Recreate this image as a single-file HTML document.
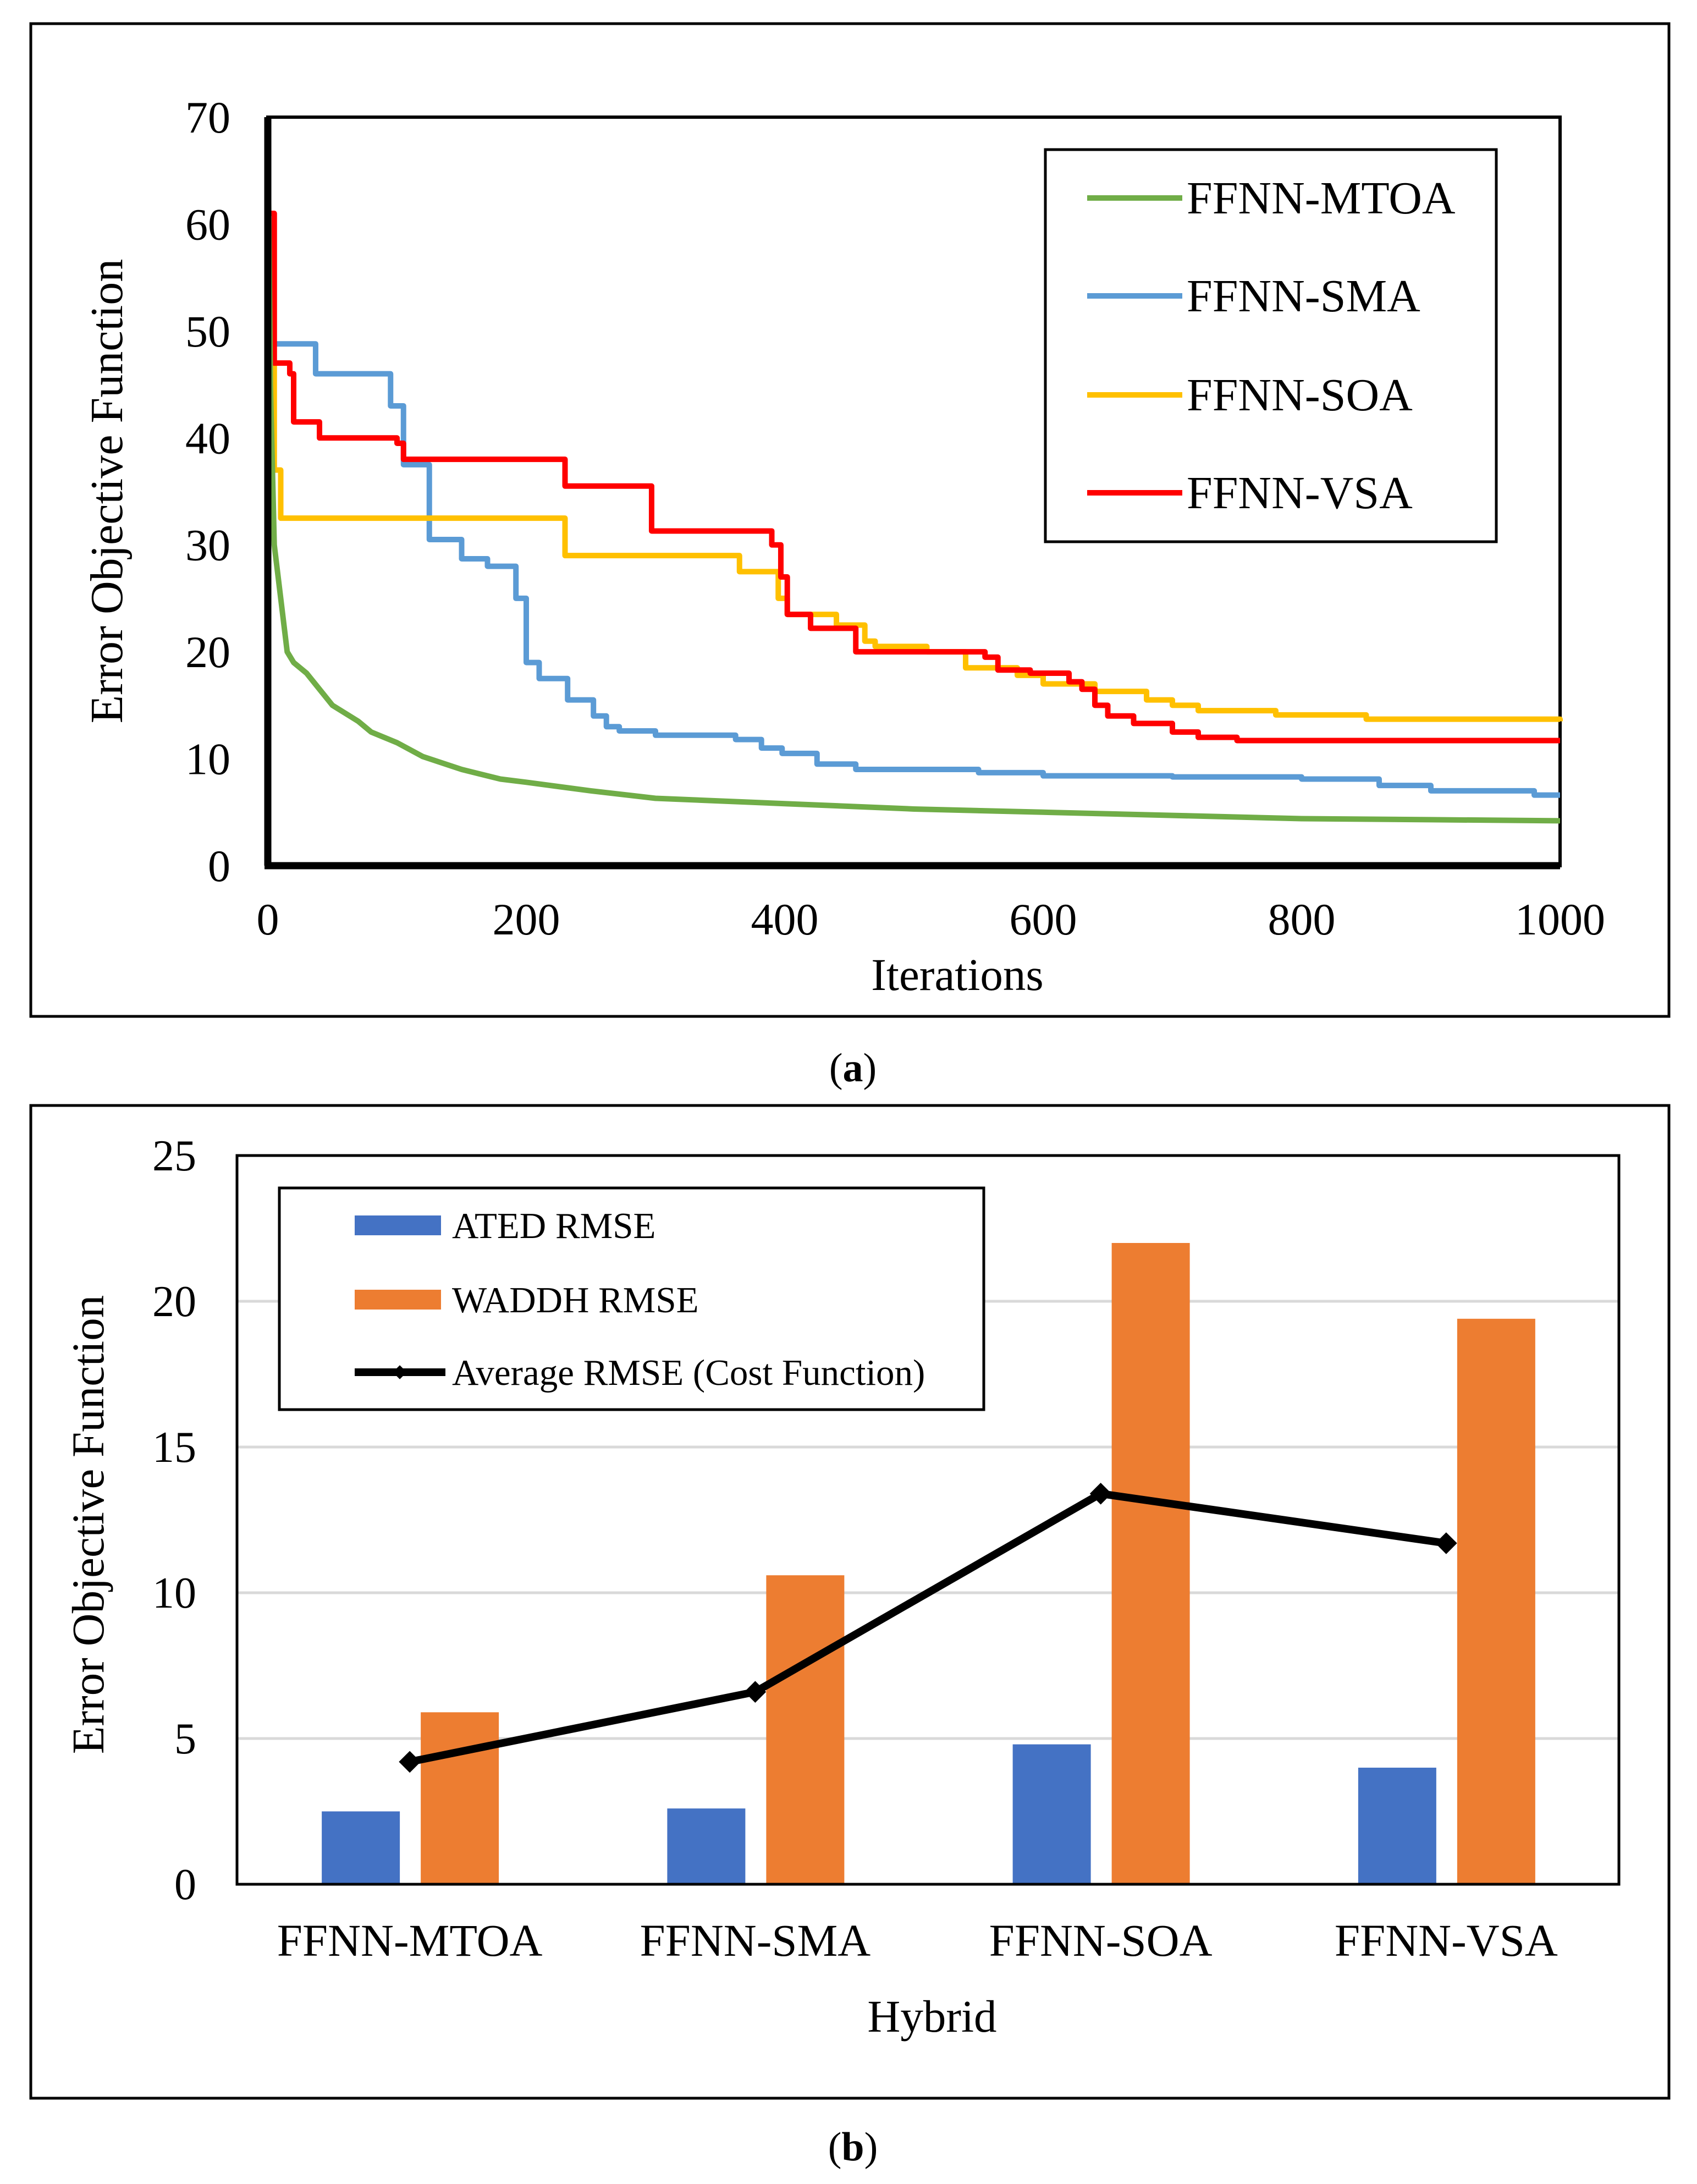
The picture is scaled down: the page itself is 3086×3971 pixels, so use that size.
<!DOCTYPE html>
<html><head><meta charset="utf-8"><style>
html,body{margin:0;padding:0;background:#fff}
svg{display:block}
text{font-family:"Liberation Serif",serif;fill:#000}
</style></head><body>
<svg id="chart" width="3086" height="3971" viewBox="0 0 3086 3971" xmlns="http://www.w3.org/2000/svg">
<g id="pa"></g>
<g id="pb"></g>
</svg>
<script>
// Panel (a) data
const aXTicks=[0,200,400,600,800,1000];
const aYTicks=[0,10,20,30,40,50,60,70];
const mtoaIt=[0,2,5,10,15,20,30,40,50,70,80,100,120,150,180,200,250,300,400,500,600,700,800,900,1000];
const mtoaVal=[70,45,30,25,20,19,18,16.5,15,13.5,12.5,11.5,10.2,9,8.1,7.8,7,6.3,5.8,5.3,5,4.7,4.4,4.3,4.2];
const smaIt=[0,37,95,105,125,150,170,192,200,210,232,252,262,272,300,362,382,398,425,455,550,600,700,800,860,900,980,1000];
const smaVal=[48.8,46,43,37.5,30.5,28.7,28,25,19,17.5,15.5,14,13,12.6,12.2,11.8,11,10.5,9.5,9,8.7,8.4,8.3,8.1,7.5,7,6.6,6.6];
const soaIt=[0,5,10,230,365,395,402,440,462,470,510,530,540,580,600,640,680,700,720,780,850,1000];
const soaVal=[47,37,32.5,29,27.5,25,23.5,22.5,21,20.5,20,20,18.5,17.8,17,16.3,15.5,15,14.5,14.1,13.7,13.5];
const vsaIt=[0,5,17,20,40,100,105,230,297,390,397,402,420,455,555,565,590,620,630,640,650,670,700,720,750,1000];
const vsaVal=[61,47,46,41.5,40,39.5,38,35.5,31.3,30,27,23.5,22.2,20,19.5,18.3,18,17.2,16.5,15,14,13.3,12.5,12,11.7,11.7];
const aNames=["FFNN-MTOA","FFNN-SMA","FFNN-SOA","FFNN-VSA"];
const aColors=["#70ad47","#5b9bd5","#ffc000","#ff0000"];
// Panel (b) data
const bCats=["FFNN-MTOA","FFNN-SMA","FFNN-SOA","FFNN-VSA"];
const atedVals=[2.5,2.6,4.8,4.0];
const waddhVals=[5.9,10.6,22.0,19.4];
const avgVals=[4.2,6.6,13.4,11.7];
const bYTicks=[0,5,10,15,20,25];

const NS="http://www.w3.org/2000/svg";
function mk(parent,tag,attrs,txt){const e=document.createElementNS(NS,tag);for(const k in attrs)e.setAttribute(k,attrs[k]);if(txt!==undefined)e.textContent=txt;parent.appendChild(e);return e;}

// ---------- Panel a ----------
const pa=document.getElementById('pa');
const ax0=487,ax1=2837,ay0=1574,ay70=213;
const ax=v=>ax0+(v/1000)*(ax1-ax0);
const ay=v=>ay0-(v/70)*(ay0-ay70);
let r=mk(pa,'rect',{x:56,y:43,width:2979,height:1805,fill:'none',stroke:'#000','stroke-width':5});


aYTicks.forEach(v=>{let t=mk(pa,'text',{x:419,y:ay(v)+28,'font-size':82,'text-anchor':'end'},String(v));

});
aXTicks.forEach(v=>{let t=mk(pa,'text',{x:ax(v),y:1699,'font-size':82,'text-anchor':'middle'},String(v));

});
let t=mk(pa,'text',{x:1741,y:1800,'font-size':83,'text-anchor':'middle'},'Iterations');


t=mk(pa,'text',{x:0,y:0,'font-size':84,'text-anchor':'middle',transform:'translate(222,893) rotate(-90)'},'Error Objective Function');


r=mk(pa,'rect',{x:ax0,y:ay70,width:ax1-ax0,height:ay0-ay70,fill:'none',stroke:'#000','stroke-width':6});


function stepPath(its,vals){let d='M'+ax(its[0])+' '+ay(vals[0]);for(let i=1;i<its.length;i++){d+=' L'+ax(its[i])+' '+ay(vals[i-1])+' L'+ax(its[i])+' '+ay(vals[i]);}return d;}
function linPath(its,vals){return its.map((x,i)=>(i?'L':'M')+ax(x)+' '+ay(vals[i])).join(' ');}
const series=[[mtoaIt,mtoaVal,false],[smaIt,smaVal,true],[soaIt,soaVal,true],[vsaIt,vsaVal,true]];
[1,2,3,0].forEach(i=>{const s=series[i];let p=mk(pa,'path',{d:s[2]?stepPath(s[0],s[1]):linPath(s[0],s[1]),fill:'none',stroke:aColors[i],'stroke-width':10,'stroke-linejoin':'round'});

});
let l=mk(pa,'line',{x1:ax0,y1:ay70,x2:ax0,y2:ay0,stroke:'#000','stroke-width':13});


l=mk(pa,'line',{x1:ax0-6,y1:ay0,x2:ax1,y2:ay0,stroke:'#000','stroke-width':13});


r=mk(pa,'rect',{x:1901,y:272,width:820,height:713,fill:'#fff',stroke:'#000','stroke-width':5});


[360,538,718,896].forEach((y,i)=>{let g=mk(pa,'g',{});


mk(g,'line',{x1:1977,y1:y,x2:2150,y2:y,stroke:aColors[i],'stroke-width':10});
mk(g,'text',{x:2158,y:y+28,'font-size':84},aNames[i]);});
t=mk(pa,'text',{x:1551,y:1966,'font-size':74,'text-anchor':'middle'});
t.innerHTML='(<tspan font-weight="bold">a</tspan>)';



// ---------- Panel b ----------
const pb=document.getElementById('pb');
const bx0=431,bx1=2944,by0=3426,by25=2101;
const by=v=>by0-(v/25)*(by0-by25);
const catW=(bx1-bx0)/bCats.length;
const cx=i=>bx0+catW*(i+0.5);
r=mk(pb,'rect',{x:56,y:2010,width:2979,height:1805,fill:'none',stroke:'#000','stroke-width':5});


bYTicks.forEach(v=>{if(v>0&&v<25){let g=mk(pb,'line',{x1:bx0,y1:by(v),x2:bx1,y2:by(v),stroke:'#d9d9d9','stroke-width':5});

}
let tt=mk(pb,'text',{x:357,y:by(v)+27,'font-size':80,'text-anchor':'end'},String(v));

});
bCats.forEach((c,i)=>{
let b=mk(pb,'rect',{x:cx(i)-160,y:by(atedVals[i]),width:142,height:by0-by(atedVals[i]),fill:'#4472c4'});


b=mk(pb,'rect',{x:cx(i)+20,y:by(waddhVals[i]),width:142,height:by0-by(waddhVals[i]),fill:'#ed7d31'});


let tt=mk(pb,'text',{x:cx(i),y:3556,'font-size':83,'text-anchor':'middle'},c);

});
let pl=mk(pb,'polyline',{points:avgVals.map((v,i)=>cx(i)+','+by(v)).join(' '),fill:'none',stroke:'#000','stroke-width':14,'stroke-linejoin':'round'});


avgVals.forEach((v,i)=>{let m=mk(pb,'rect',{x:cx(i)-14,y:by(v)-14,width:28,height:28,fill:'#000',transform:`rotate(45 ${cx(i)} ${by(v)})`});

});
r=mk(pb,'rect',{x:bx0,y:by25,width:bx1-bx0,height:by0-by25,fill:'none',stroke:'#000','stroke-width':5});


t=mk(pb,'text',{x:1695,y:3694,'font-size':83,'text-anchor':'middle'},'Hybrid');


t=mk(pb,'text',{x:0,y:0,'font-size':83,'text-anchor':'middle',transform:'translate(188,2772) rotate(-90)'},'Error Objective Function');


r=mk(pb,'rect',{x:508,y:2160,width:1281,height:403,fill:'#fff',stroke:'#000','stroke-width':5});


let g=mk(pb,'g',{});


mk(g,'rect',{x:645,y:2210,width:157,height:36,fill:'#4472c4'});
mk(g,'text',{x:822,y:2251,'font-size':67},'ATED RMSE');
g=mk(pb,'g',{});


mk(g,'rect',{x:645,y:2345,width:157,height:36,fill:'#ed7d31'});
mk(g,'text',{x:822,y:2386,'font-size':67},'WADDH RMSE');
g=mk(pb,'g',{});


mk(g,'line',{x1:645,y1:2495,x2:810,y2:2495,stroke:'#000','stroke-width':14});
mk(g,'rect',{x:718,y:2486,width:18,height:18,fill:'#000',transform:'rotate(45 727 2495)'});
mk(g,'text',{x:822,y:2518,'font-size':67},'Average RMSE (Cost Function)');
t=mk(pb,'text',{x:1551,y:3928,'font-size':74,'text-anchor':'middle'});
t.innerHTML='(<tspan font-weight="bold">b</tspan>)';


</script>
</body></html>
